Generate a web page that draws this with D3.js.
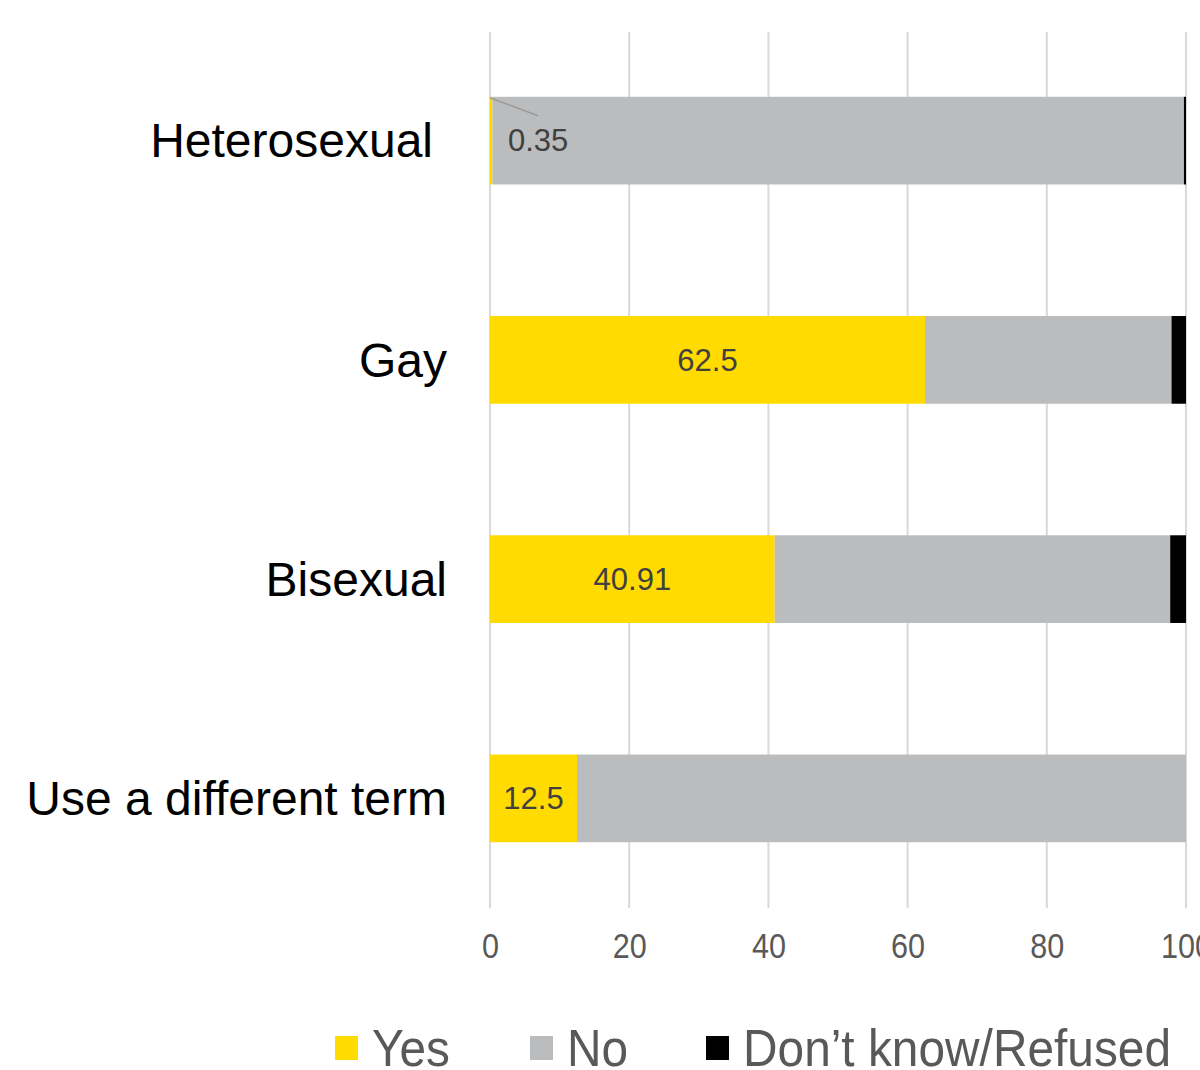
<!DOCTYPE html>
<html lang="en">
<head>
    <meta charset="UTF-8">
    <title>Sexual orientation chart</title>
    <script src="https://d3js.org/d3.v7.min.js"></script>
    <style>
        body { margin: 0; background: #fff; }
        text { font-family: "Liberation Sans", Arial, sans-serif; }
    </style>
</head>
<body>
    <svg width="1200" height="1070"></svg>
    <script>
        // data
        const categories = ["Heterosexual", "Gay", "Bisexual", "Use a different term"];
        const yesValues = [0.35, 62.5, 40.91, 12.5];
        const noValues = [99.35, 35.42, 56.82, 87.5];
        const dkValues = [0.3, 2.08, 2.27, 0];
        const xTicks = [0, 20, 40, 60, 80, 100];
        const seriesNames = ["Yes", "No", "Don\u2019t know/Refused"];
        const colors = ["#FFDB00", "#BBBCBE", "#000000"];

        const svg = d3.select("svg");

        const x = d3.scaleLinear().domain([0, 100]).range([490, 1186]);
        const y = d3.scaleBand().domain(categories).range([31, 908])
            .paddingInner(0.6).paddingOuter(0.3);

        // gridlines
        svg.append("g")
            .selectAll("line")
            .data(xTicks)
            .join("line")
            .attr("x1", d => x(d)).attr("x2", d => x(d))
            .attr("y1", 32).attr("y2", 908)
            .attr("stroke", "#d9d9d9")
            .attr("stroke-width", 2);

        // stacked rows
        const rows = categories.map((c, i) => ({cat: c, vals: [yesValues[i], noValues[i], dkValues[i]]}));
        rows.forEach(r => {
            let acc = 0;
            r.vals.forEach((v, k) => {
                svg.append("rect")
                    .attr("x", x(acc))
                    .attr("y", y(r.cat))
                    .attr("width", x(acc + v) - x(acc))
                    .attr("height", y.bandwidth())
                    .attr("fill", colors[k]);
                acc += v;
            });
        });

        // data labels on Yes segments
        rows.forEach((r, i) => {
            const v = yesValues[i];
            const cy = y(r.cat) + y.bandwidth() / 2;
            if (v < 5) {
                svg.append("line")
                    .attr("x1", x(0)).attr("y1", y(r.cat) + 1)
                    .attr("x2", x(0) + 48).attr("y2", y(r.cat) + 19)
                    .attr("stroke", "#999")
                    .attr("stroke-width", 1.5);
                svg.append("text")
                    .attr("x", x(0) + 18).attr("y", cy)
                    .attr("dy", "0.35em")
                    .attr("font-size", 31)
                    .attr("fill", "#404040")
                    .text(v);
            } else {
                svg.append("text")
                    .attr("x", x(v / 2)).attr("y", cy)
                    .attr("dy", "0.35em")
                    .attr("text-anchor", "middle")
                    .attr("font-size", 31)
                    .attr("fill", "#404040")
                    .text(v);
            }
        });

        // category labels
        svg.append("g")
            .selectAll("text")
            .data(categories)
            .join("text")
            .attr("x", d => d === "Heterosexual" ? 433 : 447)
            .attr("y", d => y(d) + y.bandwidth() / 2)
            .attr("dy", "0.35em")
            .attr("text-anchor", "end")
            .attr("font-size", 48)
            .attr("fill", "#000")
            .text(d => d);

        // x axis labels (condensed look)
        const xAxis = svg.append("g")
            .attr("transform", "translate(0,958)")
            .call(d3.axisBottom(x).tickValues(xTicks).tickSize(0).tickFormat(d3.format("d")));
        xAxis.select(".domain").remove();
        xAxis.selectAll("text")
            .attr("font-size", 36)
            .attr("fill", "#595959")
            .attr("y", 0)
            .attr("dy", 0)
            .attr("transform", "scale(0.85,1)");

        // legend
        const legendX = [335, 530, 706];
        const legend = svg.append("g");
        seriesNames.forEach((name, k) => {
            legend.append("rect")
                .attr("x", legendX[k]).attr("y", 1036)
                .attr("width", 23).attr("height", 24)
                .attr("fill", colors[k]);
            legend.append("text")
                .attr("transform", `translate(${legendX[k] + 37},1066) scale(0.92,1)`)
                .attr("font-size", 52)
                .attr("fill", "#595959")
                .text(name);
        });
    </script>
</body>
</html>
